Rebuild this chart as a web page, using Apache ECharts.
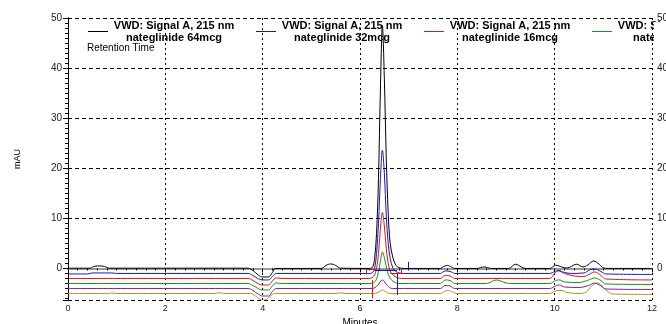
<!DOCTYPE html>
<html>
<head>
<meta charset="utf-8">
<script src="https://cdn.jsdelivr.net/npm/echarts@6/dist/echarts.min.js"></script>
<style>
  html, body { margin: 0; padding: 0; background: #fff; }
  #chart { width: 666px; height: 324px; }
</style>
</head>
<body>
<div id="chart"></div>
<script>
// chromatogram traces, [minutes, mAU], each one offset below the previous
const trace64 = [[0,0.05],[0.45,0.05],[0.55,0.45],[0.65,0.5],[0.75,0.4],[0.85,0.05],[3.7,0.05],[3.8,-0.4],[3.92,-1.4],[4.0,-1.7],[4.12,-1.7],[4.2,-0.8],[4.26,0],[5.2,0],[5.3,0.6],[5.4,0.9],[5.5,0.6],[5.6,0.05],[6.2,0],[6.26,0.3],[6.3,2],[6.34,7],[6.38,18],[6.42,36],[6.46,48.5],[6.5,38],[6.54,22],[6.58,11],[6.62,5],[6.68,2],[6.74,0.6],[6.8,0.15],[6.9,0],[7.65,0],[7.72,0.4],[7.8,0.6],[7.88,0.3],[7.95,0],[8.4,0],[8.55,0.3],[8.7,0],[9.05,0],[9.2,0.85],[9.35,0.1],[9.45,0],[9.9,0],[10.02,0.65],[10.12,0.4],[10.22,0.1],[10.3,0.2],[10.45,0.85],[10.58,0.3],[10.68,0.7],[10.8,1.5],[10.92,0.8],[11.0,0.1],[11.1,0],[12,0]];
const trace32 = [[0,-1.1],[0.4,-1.1],[0.5,-0.9],[0.9,-0.9],[1.0,-1.0],[3.7,-1.0],[3.8,-1.4],[3.92,-2.1],[4.0,-2.3],[4.12,-2.3],[4.2,-1.6],[4.28,-1.0],[6.2,-1],[6.26,-0.8],[6.3,0],[6.34,3],[6.38,9],[6.42,18],[6.46,23.6],[6.5,19],[6.54,10.5],[6.58,5],[6.62,2],[6.68,0],[6.74,-0.6],[6.8,-0.9],[6.9,-1],[7.65,-1],[7.75,-0.5],[7.85,-0.6],[7.95,-1],[9.9,-1],[10.0,-0.6],[10.08,-0.4],[10.2,-0.8],[10.35,-1.0],[10.6,-0.9],[10.72,-0.3],[10.82,-0.1],[10.95,-0.6],[11.05,-1.1],[12,-1.2]];
const trace16 = [[0,-2],[3.7,-2],[3.8,-2.4],[3.92,-3.1],[4.0,-3.3],[4.12,-3.3],[4.2,-2.5],[4.28,-1.9],[4.4,-2],[6.2,-2],[6.28,-1.6],[6.34,0],[6.38,3],[6.42,8],[6.46,11.2],[6.5,8.5],[6.54,4],[6.58,1],[6.62,-0.5],[6.68,-1.3],[6.76,-1.8],[6.85,-2],[7.65,-2],[7.75,-1.4],[7.85,-1.5],[7.95,-2],[9.9,-2],[10.0,-1],[10.08,-0.5],[10.2,-1],[10.4,-1.5],[10.6,-1.6],[10.72,-1.1],[10.82,-0.7],[10.95,-1.4],[11.05,-2.1],[12,-2.3]];
const trace8 = [[0,-3],[3.7,-3],[3.8,-3.4],[3.92,-4.1],[4.0,-4.3],[4.12,-4.3],[4.2,-3.5],[4.28,-2.9],[4.4,-3],[6.2,-3],[6.3,-2.7],[6.36,-1.5],[6.42,1.5],[6.46,3.3],[6.5,2.2],[6.56,-0.5],[6.62,-2],[6.7,-2.7],[6.8,-3],[7.65,-3],[7.75,-2.3],[7.85,-2.4],[7.95,-3],[8.6,-3],[8.8,-2.3],[9.0,-2.9],[9.1,-3],[9.9,-3],[10.02,-2.4],[10.1,-2.3],[10.2,-2.7],[10.5,-2.8],[10.7,-2.3],[10.82,-1.9],[10.95,-2.4],[11.05,-3.1],[12,-3.2]];
const trace4 = [[0,-4],[3.7,-4],[3.8,-4.4],[3.92,-5.2],[4.0,-5.5],[4.12,-5.5],[4.2,-4.6],[4.28,-4],[6.25,-4],[6.36,-3.4],[6.46,-2.3],[6.56,-3.4],[6.66,-4],[7.65,-4],[7.75,-3.4],[7.85,-3.5],[7.95,-4],[9.9,-4],[10.02,-3.5],[10.1,-3.3],[10.2,-3.7],[10.5,-3.8],[10.7,-3.4],[10.82,-2.9],[10.95,-3.5],[11.05,-4.1],[12,-4.2]];
const trace2 = [[0,-5],[0.8,-5],[0.9,-4.9],[1.0,-5],[3.0,-5],[3.1,-4.85],[3.2,-5],[3.75,-5],[3.85,-5.5],[3.95,-6.2],[4.05,-6.3],[4.15,-5.6],[4.25,-5],[5.5,-5],[5.6,-4.85],[5.7,-5],[6.3,-5],[6.4,-4.6],[6.46,-4.3],[6.52,-4.6],[6.62,-5],[7.65,-5],[7.75,-4.5],[7.82,-4.4],[7.9,-4.7],[8.0,-5],[9.9,-5],[10.05,-4.4],[10.15,-4.4],[10.25,-4.8],[10.5,-5],[10.65,-4.7],[10.75,-3.6],[10.88,-2.9],[11.0,-3.8],[11.1,-4.7],[11.2,-5.1],[12,-5.2]];

// integration marks around the main peak: [x1, y1, x2, y2]
const blueMarks = [[6.99,1.3,6.99,-0.2],[6.76,-1.0,6.76,-5.3],[6.3,-0.4,6.76,-0.4]];
const redMarks = [[6.13,-0.2,6.13,-1.2],[6.13,-0.2,6.35,-0.2],[6.25,-2.3,6.25,-6.0],[6.85,0.1,6.85,-1.0],[6.62,-1.0,6.85,-1.0]];

const traceNames = ['nateglinide 64mcg','nateglinide 32mcg','nateglinide 16mcg','nateglinide 8mcg','nateglinide 4mcg','nateglinide 2mcg'];
const traceColors = ['#000000','#1515c8','#e01414','#14901e','#8c1c8c','#a09a24'];
const traces = [trace64, trace32, trace16, trace8, trace4, trace2];

const font = "'Liberation Sans', Arial, sans-serif";
const myChart = echarts.init(document.getElementById('chart'));

let series = [];
for (let i = 0; i < traces.length; i++) {
  series.push({
    name: traceNames[i],
    type: 'line',
    data: traces[i],
    showSymbol: false,
    symbol: 'none',
    smooth: 0.35,
    lineStyle: { color: traceColors[i], width: 1 },
    itemStyle: { color: traceColors[i] },
    z: 10 - i
  });
}
function markLines(marks, color) {
  return {
    type: 'lines',
    coordinateSystem: 'cartesian2d',
    silent: true,
    z: 12,
    lineStyle: { color: color, width: 1, opacity: 1 },
    data: marks.map(m => ({ coords: [[m[0], m[1]], [m[2], m[3]]] }))
  };
}
series.push(markLines(blueMarks, traceColors[1]));
series.push(markLines(redMarks, traceColors[2]));

const option = {
  animation: false,
  backgroundColor: '#fff',
  textStyle: { fontFamily: font },
  title: {
    text: 'Retention Time',
    left: 87, top: 43, padding: 0,
    textStyle: { fontSize: 10, fontWeight: 'normal', color: '#000', fontFamily: font }
  },
  legend: {
    data: traceNames.slice(0, 4),
    left: 88, top: 20, width: 760, padding: 0,
    itemWidth: 20, itemHeight: 1, itemGap: 21,
    icon: 'rect',
    formatter: name => '{a|VWD: Signal A, 215 nm}\n{a|' + name + '}',
    textStyle: {
      rich: {
        a: { fontFamily: font, fontSize: 11, fontWeight: 'bold', color: '#000', width: 122, align: 'center', lineHeight: 12 }
      }
    }
  },
  grid: { left: 68, right: 14, top: 18, bottom: 24, outerBoundsMode: 'none', containLabel: false },
  xAxis: [
    {
      type: 'value', min: 0, max: 12, interval: 2,
      name: 'Minutes', nameLocation: 'middle', nameGap: 18,
      nameTextStyle: { fontSize: 10, color: '#000', fontFamily: font },
      axisLine: { lineStyle: { color: '#000', width: 1 } },
      axisTick: { length: 4, lineStyle: { color: '#000' } },
      minorTick: { show: true, splitNumber: 10, length: 2, lineStyle: { color: '#000' } },
      axisLabel: { fontSize: 9, color: '#222', margin: 4, fontFamily: font },
      splitLine: { show: true, lineStyle: { color: '#000', type: [2, 3], width: 1 } }
    },
    {
      type: 'value', min: 0, max: 12, position: 'top',
      axisLine: { show: true, lineStyle: { color: '#9a9a9a', width: 2 } },
      axisTick: { show: false }, axisLabel: { show: false }, splitLine: { show: false }
    }
  ],
  yAxis: [
    {
      type: 'value', min: -6.3, max: 50, splitNumber: 5,
      name: 'mAU', nameLocation: 'middle', nameGap: 46, nameRotate: 90,
      nameTextStyle: { fontSize: 9, color: '#000', fontFamily: font },
      axisLine: { show: true, lineStyle: { color: '#000', width: 1 } },
      axisTick: { show: true, length: 5, lineStyle: { color: '#000' } },
      minorTick: { show: true, splitNumber: 10, length: 3, lineStyle: { color: '#000' } },
      axisLabel: { fontSize: 10, color: '#222', margin: 6, showMinLabel: false, fontFamily: font },
      splitLine: { show: true, lineStyle: { color: '#000', type: [4, 3], width: 1 } }
    },
    {
      type: 'value', min: -6.3, max: 50, splitNumber: 5, position: 'right',
      axisLine: { show: true, lineStyle: { color: '#000', width: 1 } },
      axisTick: { show: true, inside: true, length: 4, lineStyle: { color: '#000' } },
      minorTick: { show: true, splitNumber: 10, length: 2, lineStyle: { color: '#000' } },
      axisLabel: { fontSize: 10, color: '#222', margin: 5, showMinLabel: false, fontFamily: font },
      splitLine: { show: false }
    }
  ],
  graphic: [
    { type: 'rect', left: 654, top: 22, z: 100, shape: { width: 12, height: 24 }, style: { fill: '#fff' } }
  ],
  series: series
};
myChart.setOption(option);
</script>
</body>
</html>
